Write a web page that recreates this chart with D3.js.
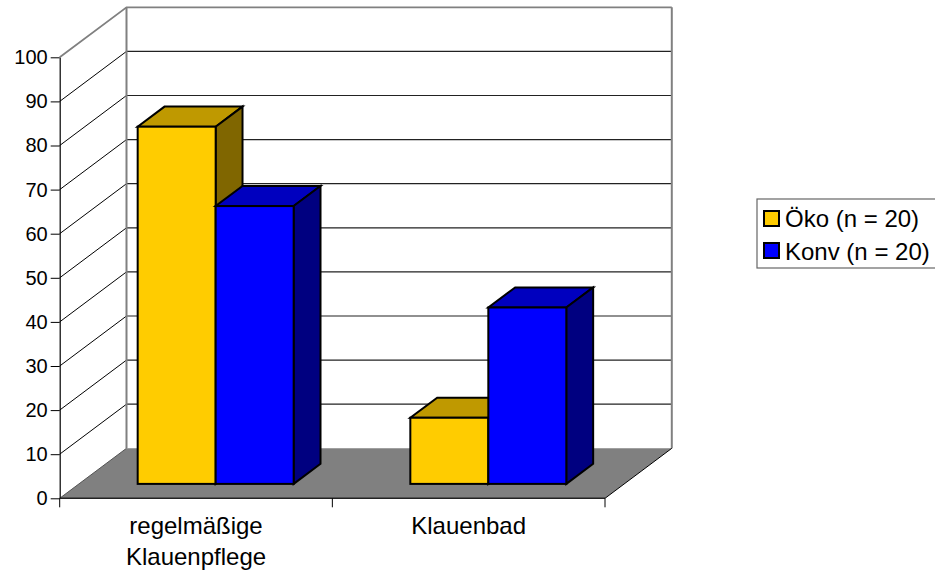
<!DOCTYPE html>
<html><head><meta charset="utf-8">
<script src="https://cdn.jsdelivr.net/npm/d3@7"></script>
<style>html,body{margin:0;padding:0;background:#fff}svg{display:block}text{font-family:"Liberation Sans",Arial,sans-serif;font-size:24px;fill:#000}</style>
</head><body><svg id="c" width="935" height="570"></svg>
<script>
const categories = [["regelmäßige","Klauenpflege"],["Klauenbad"]];
const seriesNames = ["Öko (n = 20)","Konv (n = 20)"];
const oeko = [81,15];
const konv = [63,40];
const yTicks = [0,10,20,30,40,50,60,70,80,90,100];
const fronts = ["#FFCC00","#0000FF"], tops = ["#BF9900","#0000BF"], sides = ["#806600","#000080"];

const svg = d3.select("#c");
const DX = 66.8, DY = -50;
const y = d3.scaleLinear().domain([0,100]).range([498.3,57.3]);
const x = d3.scaleBand().domain(categories.map((d,i)=>i)).range([59.7,605]);
const inner = d3.scaleBand().domain([0,1]).range([0,x.bandwidth()]).paddingOuter(0.748).paddingInner(0);
const poly = pts => pts.map(p=>p.join(",")).join(" ");
const [x0,x1] = x.range();

// walls and floor
svg.append("polygon").attr("points",poly([[x0,y(0)],[x1,y(0)],[x1+DX,y(0)+DY],[x0+DX,y(0)+DY]])).attr("fill","#808080");
yTicks.filter(t=>t>0&&t<100).forEach(t=>{
  svg.append("line").attr("x1",x0).attr("y1",y(t)).attr("x2",x0+DX).attr("y2",y(t)+DY).attr("stroke","#000").attr("stroke-width",1);
  svg.append("line").attr("x1",x0+DX).attr("y1",y(t)+DY).attr("x2",x1+DX).attr("y2",y(t)+DY).attr("stroke","#222").attr("stroke-width",1.2);
});
svg.append("polyline").attr("points",poly([[x0,y(100)],[x0+DX,y(100)+DY],[x1+DX,y(100)+DY]])).attr("fill","none").attr("stroke","#808080").attr("stroke-width",1.8);
[x0+DX,x1+DX].forEach(px=>svg.append("line").attr("x1",px).attr("x2",px).attr("y1",y(100)+DY).attr("y2",y(0)+DY).attr("stroke","#808080").attr("stroke-width",2));
svg.append("line").attr("x1",x0).attr("x2",x0+DX).attr("y1",y(0)).attr("y2",y(0)+DY).attr("stroke","#555").attr("stroke-width",1);
svg.append("line").attr("x1",x1).attr("x2",x1+DX).attr("y1",y(0)).attr("y2",y(0)+DY).attr("stroke","#000").attr("stroke-width",1);

// bars
const d0 = 0.288, d1 = 0.69;
const drawBar = (cat,s,v) => {
  const ax = DX*d0+0.4, ay = DY*d0, ddx = DX*(d1-d0), ddy = DY*(d1-d0);
  const l = x(cat)+inner(s)+ax, r = l+inner.bandwidth();
  const t = y(v)+ay, b = y(0)+ay;
  const g = svg.append("g").attr("stroke","#000").attr("stroke-width",2).attr("stroke-linejoin","miter");
  g.append("polygon").attr("points",poly([[l,t],[r,t],[r+ddx,t+ddy],[l+ddx,t+ddy]])).attr("fill",tops[s]);
  g.append("polygon").attr("points",poly([[r,t],[r+ddx,t+ddy],[r+ddx,b+ddy],[r,b]])).attr("fill",sides[s]);
  g.append("rect").attr("x",l).attr("y",t).attr("width",r-l).attr("height",b-t).attr("fill",fronts[s]);
};
categories.forEach((c,i)=>{ drawBar(i,0,oeko[i]); drawBar(i,1,konv[i]); });

// y axis
const ya = svg.append("g").attr("transform",`translate(${x0},0)`).call(d3.axisLeft(y).tickValues(yTicks).tickSize(9).tickSizeOuter(0).tickPadding(3));
ya.selectAll(".domain").attr("stroke","#000").attr("stroke-width",1.2);
ya.selectAll("text").style("font-family",'"Liberation Sans",Arial,sans-serif').style("font-size","20px").attr("fill","#000");

// x axis
svg.append("line").attr("x1",x0).attr("x2",x1).attr("y1",y(0)).attr("y2",y(0)).attr("stroke","#222").attr("stroke-width",1.6);
[0,1,2].forEach(i=>{
  const px = x0+i*x.step();
  svg.append("line").attr("x1",px).attr("x2",px).attr("y1",y(0)).attr("y2",y(0)+9).attr("stroke","#000").attr("stroke-width",1);
});
categories.forEach((lines,i)=>{
  const t = svg.append("text").attr("text-anchor","middle").attr("x",x(i)+x.bandwidth()/2).attr("y",534);
  lines.forEach((ln,j)=>t.append("tspan").attr("x",x(i)+x.bandwidth()/2).attr("dy",j?30.5:0).text(ln));
});

// legend
svg.append("rect").attr("x",757).attr("y",199).attr("width",200).attr("height",69).attr("fill","#fff").attr("stroke","#666").attr("stroke-width",1.2);
seriesNames.forEach((n,i)=>{
  const ly = 211+i*32;
  svg.append("rect").attr("x",764).attr("y",ly).attr("width",15).attr("height",15).attr("fill",fronts[i]).attr("stroke","#000").attr("stroke-width",2);
  svg.append("text").attr("x",785).attr("y",227+i*32.5).text(n);
});
</script></body></html>
